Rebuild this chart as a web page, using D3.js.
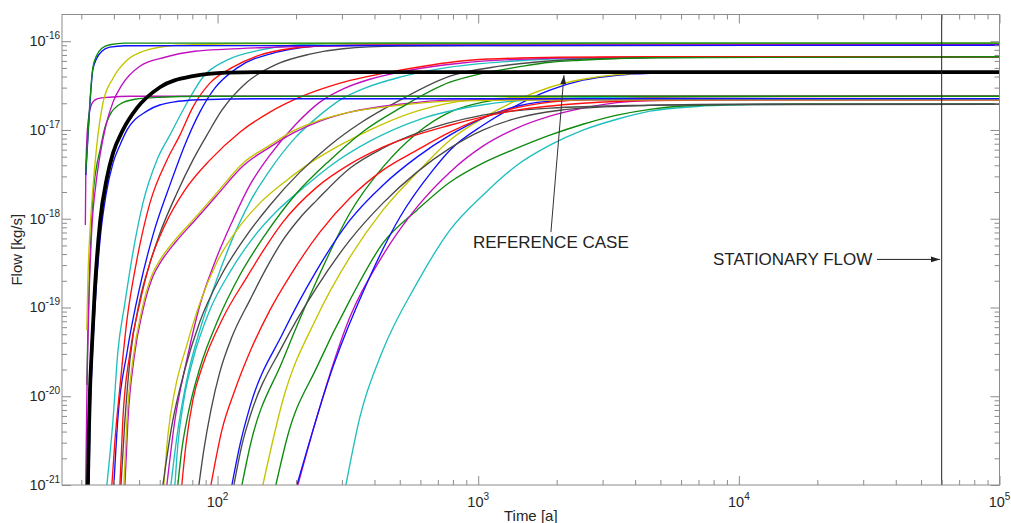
<!DOCTYPE html>
<html><head><meta charset="utf-8">
<script src="https://cdn.jsdelivr.net/npm/d3@7"></script>
<style>html,body{margin:0;padding:0;background:#fff;}svg{display:block;font-family:"Liberation Sans",Arial,sans-serif;}</style>
</head><body><svg id="c" width="1011" height="523"></svg>
<script>
// ---- data: [time (a), flow (kg/s)] ----
const case01=[[31.2,3.3e-18],[31.8,8.7e-18],[32.4,2.17e-17],[33.2,4.97e-17],[34.4,6.96e-17],[36.0,8.34e-17],[38.6,9.13e-17],[44.1,9.5e-17],[1e5,9.5e-17]];
const case02=[[31.2,3.1e-18],[31.8,8.1e-18],[32.4,2.0e-17],[33.2,4.71e-17],[34.4,6.43e-17],[36.0,7.7e-17],[38.6,8.56e-17],[44.1,8.9e-17],[1e5,9.0e-17]];
const case03=[[31.5,1.34e-20],[31.8,5.57e-20],[32.4,3.42e-19],[33.2,1.62e-18],[34.4,4.01e-18],[35.4,5.92e-18],[36.9,1.05e-17],[38.6,1.47e-17],[42.2,1.95e-17],[48.2,2.22e-17],[60.1,2.34e-17],[85.5,2.4e-17],[1e5,2.4e-17]];
const case04=[[31.5,5.57e-20],[31.8,2.03e-19],[32.4,7.44e-19],[33.2,2.1e-18],[34.4,6.7e-18],[36.3,2.0e-17],[39.7,3.83e-17],[44.9,6.11e-17],[51.7,7.7e-17],[69.8,9.0e-17],[93.4,9.25e-17],[145,9.4e-17],[1e5,9.5e-17]];
const case05=[[31.1,8.5e-19],[31.2,2.7e-18],[31.5,7.7e-18],[32.1,1.47e-17],[33.2,2.06e-17],[34.7,2.25e-17],[38.6,2.34e-17],[46.1,2.4e-17],[1e5,2.4e-17]];
const case06=[[31.2,1e-21],[31.5,9.06e-21],[32.1,1.21e-19],[32.9,7.44e-19],[34.1,2.39e-18],[35.4,5.2e-18],[37.3,1.13e-17],[39.7,2.06e-17],[42.9,3.2e-17],[50.3,5.23e-17],[62.8,6.6e-17],[81.8,7.7e-17],[108.6,8.13e-17],[145,8.45e-17],[226,8.8e-17],[352,9.0e-17],[779,9.13e-17],[1e5,9.13e-17]];
const case07=[[32.1,1e-21],[32.4,5.4e-21],[32.9,1.97e-20],[33.8,9.35e-20],[35.4,5.74e-19],[37.3,1.84e-18],[39.7,4.23e-18],[42.2,6.74e-18],[44.9,9.95e-18],[53.5,1.63e-17],[67.4,2.06e-17],[85.5,2.19e-17],[145,2.25e-17],[1e5,2.25e-17]];
const case08=[[37.6,1e-21],[39.7,5.4e-21],[41.4,3.07e-20],[44.1,1.12e-19],[47.3,4.1e-19],[51.7,1.5e-18],[58.5,4.57e-18],[65.6,8.74e-18],[76.2,2.0e-17],[87.8,3.93e-17],[108.6,6.11e-17],[145,7.92e-17],[194.5,9.0e-17],[263,9.37e-17],[500,9.5e-17],[1e5,9.5e-17]];
const case09=[[39.3,1e-21],[40.4,3.21e-21],[42.2,1.27e-20],[44.9,7.21e-20],[49.0,3.42e-19],[55.0,1.5e-18],[63.9,4.57e-18],[71.7,8.74e-18],[80.4,1.81e-17],[93.4,3.37e-17],[114.5,5.1e-17],[145,6.96e-17],[194.5,8.34e-17],[263,8.9e-17],[500,9.13e-17],[1e5,9.13e-17]];
const case10=[[40.0,1e-21],[41.4,5.4e-21],[44.9,3.07e-20],[50.3,1.7e-19],[56.5,6.53e-19],[65.6,2.39e-18],[76.2,7.68e-18],[85.5,1.59e-17],[97.6,2.96e-17],[118.6,4.97e-17],[168.9,7.52e-17],[263,8.9e-17],[500,9.0e-17],[1e5,9.0e-17]];
const case11=[[42.2,1e-21],[43.3,5.4e-21],[46.1,3.07e-20],[50.3,1.12e-19],[55.0,3.16e-19],[62.8,8.47e-19],[74.9,2.1e-18],[93.4,4.57e-18],[121.8,9.45e-18],[158.8,1.59e-17],[207,2.34e-17],[295,3.37e-17],[501,4.71e-17],[929,6.11e-17],[2058,6.6e-17],[4560,6.69e-17],[1e5,6.69e-17]];
const case12=[[42.6,1e-21],[44.1,5.4e-21],[46.1,2.56e-20],[50.3,1.21e-19],[55.0,3.16e-19],[60.1,6.88e-19],[69.8,1.94e-18],[80.4,4.57e-18],[91.0,8.74e-18],[103.9,1.67e-17],[129.6,3.45e-17],[168.9,5.51e-17],[226,7.14e-17],[302.5,8.23e-17],[500,8.8e-17],[1211,8.95e-17],[1e5,9.0e-17]];
const case13=[[43.7,1e-21],[44.9,5.4e-21],[47.3,2.56e-20],[51.2,9.35e-20],[56.0,2.32e-19],[60.1,3.42e-19],[68.6,5.74e-19],[80.4,9.64e-19],[97.6,1.84e-18],[125.1,4.23e-18],[158.8,6.74e-18],[194.5,9.7e-18],[246.9,1.29e-17],[321.9,1.59e-17],[500,1.9e-17],[779,2.11e-17],[1446,2.17e-17],[2931,2.19e-17],[1e5,2.19e-17]];
const case14=[[44.1,1e-21],[45.3,5.4e-21],[47.7,2.56e-20],[51.7,9.35e-20],[56.5,2.25e-19],[60.7,3.3e-19],[69.2,5.5e-19],[81.1,9.3e-19],[98.5,1.78e-18],[126,4.0e-18],[158.8,6.4e-18],[194.5,9.2e-18],[246.9,1.26e-17],[321.9,1.59e-17],[500,1.95e-17],[779,2.17e-17],[1446,2.19e-17],[1e5,2.19e-17]];
const case15=[[61.7,1e-21],[66.8,4.7e-21],[74.9,2.0e-20],[85.5,6.9e-20],[102,2.15e-19],[127.3,6.1e-19],[158.8,1.42e-18],[207,3.35e-18],[270,6.74e-18],[352,1.19e-17],[501,2.17e-17],[779,4.04e-17],[1211,5.23e-17],[2058,6.11e-17],[3499,6.43e-17],[7093,6.6e-17],[1e5,6.69e-17]];
const case16=[[62.2,1e-21],[64.5,3.66e-21],[68.6,1.17e-20],[76.2,3.77e-20],[85.5,1.12e-19],[99.4,3.24e-19],[118.6,7.44e-19],[145.3,1.5e-18],[184.5,2.72e-18],[226,4.23e-18],[295,6.74e-18],[420,1.13e-17],[598,1.67e-17],[929,2.17e-17],[1579,2.34e-17],[2931,2.4e-17],[1e5,2.4e-17]];
const case17=[[63.9,1e-21],[68.6,5.4e-21],[76.2,2.56e-20],[85.5,1.06e-19],[97.6,3.24e-19],[113.5,9.15e-19],[133.0,2.39e-18],[158.8,5.2e-18],[198.0,1.13e-17],[246.9,2.06e-17],[307.9,2.96e-17],[384.1,3.73e-17],[547,4.71e-17],[851,5.65e-17],[1446,6.27e-17],[2931,6.55e-17],[7093,6.65e-17],[1e5,6.69e-17]];
const case18=[[66.2,1e-21],[70.4,4.16e-21],[76.9,1.73e-20],[85.5,5.57e-20],[97.6,1.79e-19],[113.5,5.74e-19],[133.0,1.54e-18],[158.8,3.53e-18],[198.0,8.09e-18],[246.9,1.47e-17],[294.6,2.17e-17],[367.5,2.96e-17],[500.6,3.93e-17],[778.9,5.1e-17],[1324,5.95e-17],[2931,6.52e-17],[7093,6.65e-17],[1e5,6.69e-17]];
const case19=[[68.6,1e-21],[70.4,2.82e-21],[74.2,9.06e-21],[80.4,2.56e-20],[93.4,9.35e-20],[111.5,2.5e-19],[136.6,6.05e-19],[168.9,1.22e-18],[212.5,2.21e-18],[269.8,3.91e-18],[384.1,7.48e-18],[597.6,1.32e-17],[1015,1.9e-17],[1884,2.25e-17],[4560,2.37e-17],[1e5,2.4e-17]];
const case20=[[72.9,1e-21],[75.6,2.82e-21],[80.4,9.06e-21],[87.8,2.25e-20],[104.8,7.6e-20],[129.6,2.2e-19],[151.9,4.67e-19],[178.1,9.15e-19],[240.4,2.27e-18],[321.9,4.12e-18],[430.9,6.4e-18],[778.9,1.13e-17],[1408,1.67e-17],[2522,2.0e-17],[4560,2.15e-17],[11030,2.19e-17],[1e5,2.19e-17]];
const case21=[[70.4,1e-21],[72.9,2.5e-21],[76.9,6.14e-21],[85.5,2.08e-20],[100.3,7.21e-20],[121.8,2.32e-19],[151.9,6.53e-19],[198.0,1.84e-18],[269.8,4.57e-18],[367.5,9.95e-18],[500.6,1.76e-17],[778.9,3.45e-17],[1042,4.36e-17],[1408,5.1e-17],[1884,5.8e-17],[2457,6.11e-17],[4560,6.52e-17],[1e5,6.69e-17]];
const case22=[[84.8,1e-21],[88.6,2.5e-21],[94.3,6.99e-21],[102.0,1.87e-20],[113.5,4.64e-20],[133.0,1.21e-19],[153.9,2.78e-19],[178.1,5.74e-19],[207.0,1.02e-18],[240.4,1.62e-18],[321.9,3.71e-18],[430.9,6.24e-18],[582,9.2e-18],[1042,1.47e-17],[1884,1.76e-17],[4560,1.9e-17],[11030,1.95e-17],[1e5,1.95e-17]];
const case23=[[94.3,1e-21],[103.9,4.16e-21],[116.5,1.17e-20],[133.0,3.15e-20],[158.8,9.35e-20],[189.4,2.26e-19],[246.9,7.06e-19],[321.9,1.71e-18],[430.9,3.53e-18],[582,5.92e-18],[778.9,9.45e-18],[1211,1.59e-17],[1884,2.06e-17],[3407,2.28e-17],[7093,2.37e-17],[1e5,2.4e-17]];
const case24=[[113.5,1e-21],[121.8,2.82e-21],[133.0,7.55e-21],[178.1,5.15e-20],[240.4,2.64e-19],[321.9,9.64e-19],[430.9,2.39e-18],[582,4.94e-18],[778.9,8.74e-18],[1042,1.36e-17],[1408,1.85e-17],[2058,2.14e-17],[3499,2.2e-17],[1e5,2.22e-17]];
const case25=[[115.5,1e-21],[124.0,2.82e-21],[133.0,5.83e-21],[178.1,3.77e-20],[240.4,1.7e-19],[321.9,5.74e-19],[430.9,1.5e-18],[582,3.35e-18],[778.9,6.24e-18],[1042,9.95e-18],[1408,1.36e-17],[2058,1.67e-17],[3499,1.85e-17],[7093,1.93e-17],[1e5,1.95e-17]];
const case26=[[124.0,1e-21],[133.0,2.68e-21],[178.1,2.56e-20],[240.4,2.03e-19],[321.9,1.16e-18],[430.9,3.81e-18],[582,9.2e-18],[778.9,1.59e-17],[1042,2.06e-17],[1446,2.31e-17],[2457,2.38e-17],[1e5,2.4e-17]];
const case27=[[149.2,1e-21],[178.1,9.06e-21],[240.4,7.8e-20],[321.9,3.69e-19],[430.9,1.25e-18],[582,3.3e-18],[778.9,7.68e-18],[1042,1.36e-17],[1408,2.17e-17],[1884,3.03e-17],[2522,3.73e-17],[3407,4.2e-17],[4560,4.36e-17],[7093,4.45e-17],[1e5,4.48e-17]];
const case28=[[167.4,1e-21],[186.1,3.66e-21],[240.4,2.13e-20],[321.9,1.21e-19],[430.9,5.31e-19],[582,1.25e-18],[778.9,2.58e-18],[1042,4.23e-18],[1408,6.24e-18],[1884,8.74e-18],[2522,1.16e-17],[3407,1.47e-17],[4560,1.71e-17],[7093,1.9e-17],[17160,1.95e-17],[1e5,1.95e-17]];
const case29=[[203.3,1e-21],[240.4,5.83e-21],[321.9,7.8e-20],[430.9,3.89e-19],[582,1.35e-18],[778.9,3.35e-18],[1042,6.57e-18],[1408,1.05e-17],[1884,1.43e-17],[2522,1.76e-17],[3407,2.03e-17],[4560,2.15e-17],[7093,2.19e-17],[1e5,2.19e-17]];
const case30=[[201.6,1e-21],[277.0,2.13e-20],[374.1,1.88e-19],[500.6,1.04e-18],[670.2,3.53e-18],[778.9,5.92e-18],[1042,1.13e-17],[1408,1.9e-17],[1884,2.81e-17],[2522,3.64e-17],[3407,4.14e-17],[4560,4.36e-17],[7093,4.46e-17],[1e5,4.48e-17]];
const case31=[[310.7,1e-21],[351.6,5.83e-21],[430.9,3.31e-20],[582,1.88e-19],[778.9,7.44e-19],[1042,1.84e-18],[1408,4.01e-18],[1884,6.74e-18],[2522,9.95e-18],[3407,1.32e-17],[4560,1.63e-17],[7093,1.85e-17],[11030,1.93e-17],[17160,1.95e-17],[1e5,1.95e-17]];
// reference case (thick black line)
const referenceCase=[[31.8,1e-21],[32.1,4.16e-21],[32.4,1.17e-20],[32.9,3.31e-20],[33.8,1.57e-19],[35.4,9.15e-19],[37.6,2.87e-18],[39.7,5.48e-18],[43.3,9.95e-18],[49.0,1.76e-17],[60.1,3.03e-17],[80.4,4.04e-17],[108.6,4.42e-17],[145,4.48e-17],[1e5,4.48e-17]];

const xMajorTicks=[1e2,1e3,1e4,1e5];
const xTickExponents=["2","3","4","5"];
const yMajorTicks=[1e-21,1e-20,1e-19,1e-18,1e-17,1e-16];
const yTickExponents=["-21","-20","-19","-18","-17","-16"];
const stationaryTime=6e4;
const labels={x:"Time [a]",y:"Flow [kg/s]",ref:"REFERENCE CASE",stat:"STATIONARY FLOW"};

// ---- drawing order & colours ----
const curves=[case31,case28,case29,case30,case27,case26,case25,case24,case23,case22,case20,case19,case18,case17,case16,case15,case14,case13,case12,case11,case21,case10,case09,case08,case07,case05,case03,case06,case04,case02,case01];
const C={b:"#1010ff",g:"#0e8a0e",r:"#ff1010",c:"#20bfbf",m:"#c010c0",y:"#c4c400",k:"#4a4a4a"};
const curveColors=[C.c,C.g,C.m,C.b,C.y,C.g,C.k,C.b,C.r,C.k,C.r,C.c,C.c,C.m,C.y,C.k,C.m,C.y,C.k,C.r,C.g,C.b,C.r,C.c,C.b,C.m,C.g,C.m,C.y,C.b,C.g];

const plot={left:62,right:999.5,top:14.5,bottom:485};
const x=d3.scaleLog().domain([25.3,1e5]).range([plot.left,plot.right]);
const y=d3.scaleLog().domain([1e-21,2e-16]).range([plot.bottom,plot.top]);
const svg=d3.select("#c");
const defs=svg.append("defs");
defs.append("clipPath").attr("id","clip").append("rect")
  .attr("x",plot.left).attr("y",plot.top).attr("width",plot.right-plot.left).attr("height",plot.bottom-plot.top);
defs.append("marker").attr("id","arr").attr("viewBox","0 0 10 10").attr("refX",10).attr("refY",5)
  .attr("markerWidth",9).attr("markerHeight",9).attr("markerUnits","userSpaceOnUse").attr("orient","auto")
  .append("path").attr("d","M0,1.8 L10,5 L0,8.2 Z").attr("fill","#222");

const line=d3.line().x(d=>x(d[0])).y(d=>y(d[1])).curve(d3.curveMonotoneX);
const g=svg.append("g").attr("clip-path","url(#clip)");
curves.forEach((c,i)=>{
  g.append("path").attr("d",line(c)).attr("fill","none").attr("stroke",curveColors[i]).attr("stroke-width",1.35);
});
g.append("path").attr("d",line(referenceCase)).attr("fill","none").attr("stroke","#000").attr("stroke-width",3.8);

// stationary line
svg.append("line").attr("x1",x(stationaryTime)).attr("x2",x(stationaryTime)).attr("y1",plot.top).attr("y2",plot.bottom)
  .attr("stroke","#222").attr("stroke-width",1);

// minor ticks
const xMinor=[],yMinor=[];
[10,100,1000,10000].forEach(d=>{for(let k=2;k<=9;k++){const v=d*k; if(v>=x.domain()[0]&&v<1e5) xMinor.push(v);}});
[1e-21,1e-20,1e-19,1e-18,1e-17,1e-16].forEach(d=>{for(let k=2;k<=9;k++){const v=d*k; if(v<2e-16*0.999) yMinor.push(v);}});

const axColor="#8c8c8c";
function styleAxis(sel){sel.selectAll(".tick line").attr("stroke",axColor);sel.select(".domain").remove();sel.selectAll("text").remove();}
const axes=[
  [d3.axisBottom(x),`translate(0,${plot.bottom})`,xMajorTicks,xMinor],
  [d3.axisTop(x),`translate(0,${plot.top})`,xMajorTicks,xMinor],
  [d3.axisLeft(y),`translate(${plot.left},0)`,yMajorTicks,yMinor],
  [d3.axisRight(y),`translate(${plot.right},0)`,yMajorTicks,yMinor]
];
axes.forEach(([ax,tr,maj,min])=>{
  svg.append("g").attr("transform",tr).call(ax.tickValues(min).tickSize(-5).tickFormat("")).call(styleAxis);
  svg.append("g").attr("transform",tr).call(ax.tickValues(maj).tickSize(-9).tickFormat("")).call(styleAxis);
});
svg.append("rect").attr("x",plot.left).attr("y",plot.top).attr("width",plot.right-plot.left).attr("height",plot.bottom-plot.top)
  .attr("fill","none").attr("stroke",axColor).attr("stroke-width",1);

// tick labels
const tc="#262626";
xMajorTicks.forEach((v,i)=>{
  const t=svg.append("text").attr("x",x(v)).attr("y",507).attr("text-anchor","middle").attr("fill",tc).attr("font-size",14.5);
  t.append("tspan").text("10");
  t.append("tspan").attr("dy",-7).attr("font-size",10).text(xTickExponents[i]);
});
yMajorTicks.forEach((v,i)=>{
  const t=svg.append("text").attr("x",60).attr("y",y(v)+5).attr("text-anchor","end").attr("fill",tc).attr("font-size",14.5);
  t.append("tspan").text("10");
  t.append("tspan").attr("dy",-7).attr("font-size",10).text(yTickExponents[i]);
});
// axis labels
svg.append("text").attr("x",(plot.left+plot.right)/2).attr("y",521).attr("text-anchor","middle").attr("font-size",15).attr("fill",tc).text(labels.x);
svg.append("text").attr("transform",`translate(22,${(plot.top+plot.bottom)/2}) rotate(-90)`).attr("text-anchor","middle").attr("font-size",15).attr("fill",tc).text(labels.y);

// annotations
svg.append("line").attr("x1",x(1901)).attr("y1",y(7.06e-19)).attr("x2",x(2133)).attr("y2",y(4.14e-17))
  .attr("stroke","#333").attr("stroke-width",1).attr("marker-end","url(#arr)");
svg.append("text").attr("x",x(954)).attr("y",y(4.67e-19)).attr("font-size",17).attr("fill","#222").text(labels.ref);
svg.append("text").attr("x",x(7955)).attr("y",y(3.0e-19)).attr("font-size",17).attr("fill","#222").text(labels.stat);
svg.append("line").attr("x1",x(33880)).attr("y1",y(3.48e-19)).attr("x2",x(59100)).attr("y2",y(3.48e-19))
  .attr("stroke","#222").attr("stroke-width",1).attr("marker-end","url(#arr)");
</script></body></html>
